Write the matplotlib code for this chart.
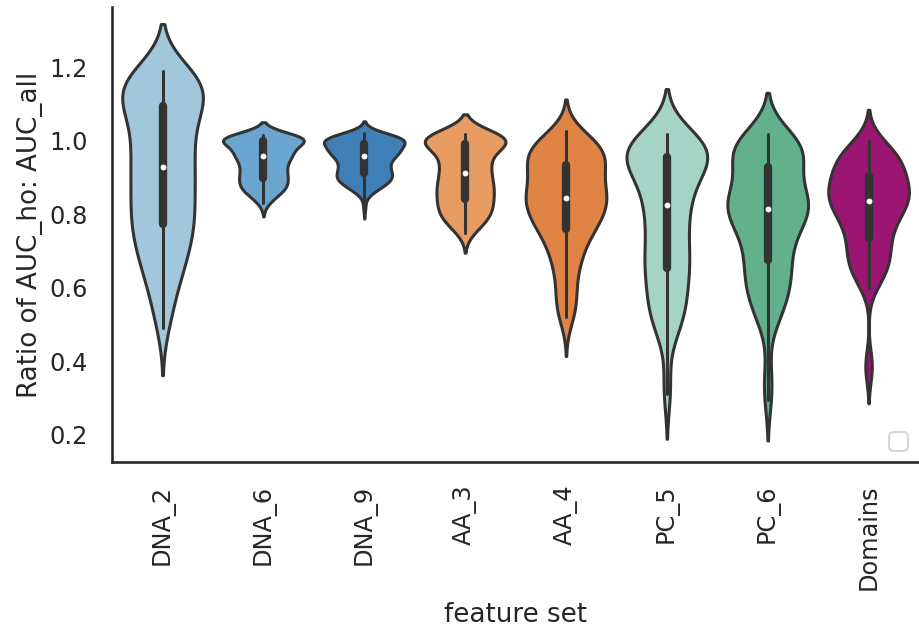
import numpy as np
import pandas as pd
import matplotlib
matplotlib.use("Agg")
import matplotlib.pyplot as plt
import seaborn as sns

feature_sets = ["DNA_2", "DNA_6", "DNA_9", "AA_3", "AA_4", "PC_5", "PC_6", "Domains"]
colors = ["#a2c7dc", "#6aa6cf", "#3f7fb6", "#e89c62",
          "#df8445", "#a5d4c6", "#63b08e", "#9b1572"]

# ratio values per feature set (rounded) and how often each one occurs
dna2_vals = [1.19, 1.16, 1.13, 1.11, 1.09, 1.06, 1.03, 1.00, 0.97, 0.94, 0.92, 0.89,
             0.86, 0.83, 0.80, 0.78, 0.75, 0.72, 0.69, 0.66, 0.63, 0.60, 0.57, 0.54,
             0.51, 0.49]
dna2_counts = [9, 11, 10, 5, 6, 6, 6, 6, 6, 5, 6, 6,
               6, 6, 6, 5, 6, 6, 5, 4, 4, 3, 2, 2,
               1, 2]

dna6_vals = [1.015, 1.01, 1.005, 0.995, 0.985, 0.975, 0.965, 0.96, 0.95, 0.94, 0.93, 0.92,
             0.91, 0.90, 0.89, 0.88, 0.87, 0.86, 0.85, 0.84, 0.83]
dna6_counts = [5, 12, 18, 7, 7, 7, 7, 7, 6, 6, 6, 6,
               6, 7, 6, 7, 6, 6, 3, 2, 2]

dna9_vals = [1.022, 1.015, 1.008, 1.00, 0.99, 0.98, 0.97, 0.965, 0.955, 0.945, 0.935, 0.925,
             0.915, 0.905, 0.895, 0.885, 0.875, 0.865, 0.855, 0.82]
dna9_counts = [3, 7, 10, 15, 9, 9, 9, 8, 7, 7, 7, 7,
               7, 9, 8, 7, 5, 3, 2, 1]

aa3_vals = [1.018, 1.01, 1.00, 0.99, 0.975, 0.96, 0.945, 0.93, 0.92, 0.905, 0.89, 0.875,
            0.86, 0.845, 0.83, 0.815, 0.80, 0.785, 0.77, 0.75]
aa3_counts = [8, 12, 15, 6, 6, 6, 6, 6, 5, 6, 7, 8,
              7, 7, 7, 7, 7, 6, 5, 3]

aa4_vals = [1.027, 1.01, 0.99, 0.97, 0.95, 0.93, 0.91, 0.89, 0.87, 0.85, 0.84, 0.82,
            0.80, 0.78, 0.765, 0.75, 0.73, 0.71, 0.69, 0.67, 0.65, 0.62, 0.59, 0.56,
            0.54, 0.52, 0.50]
aa4_counts = [3, 5, 8, 10, 9, 7, 7, 7, 7, 7, 8, 8,
              7, 7, 5, 4, 4, 4, 3, 3, 3, 3, 3, 3,
              2, 2, 1]

pc5_vals = [1.02, 1.00, 0.98, 0.97, 0.95, 0.92, 0.89, 0.86, 0.84, 0.81, 0.78, 0.75,
            0.72, 0.69, 0.67, 0.66, 0.64, 0.61, 0.58, 0.55, 0.52, 0.49, 0.46, 0.34, 0.31]
pc5_counts = [4, 9, 11, 11, 9, 9, 7, 5, 5, 6, 6, 5,
              5, 5, 4, 4, 4, 5, 5, 6, 5, 4, 2, 2, 2]

pc6_vals = [1.02, 1.00, 0.98, 0.96, 0.945, 0.925, 0.90, 0.875, 0.85, 0.83, 0.80, 0.78,
            0.755, 0.73, 0.70, 0.68, 0.66, 0.63, 0.60, 0.57, 0.54, 0.51, 0.48, 0.37,
            0.33, 0.295]
pc6_counts = [5, 8, 9, 7, 6, 4, 4, 5, 10, 12, 9, 7,
              6, 5, 4, 4, 5, 6, 6, 5, 4, 3, 1, 2,
              1, 2]

domains_vals = [1.00, 0.98, 0.96, 0.94, 0.92, 0.90, 0.88, 0.86, 0.845, 0.83, 0.81, 0.79,
                0.77, 0.75, 0.74, 0.72, 0.70, 0.68, 0.66, 0.64, 0.62, 0.60, 0.39, 0.37]
domains_counts = [4, 6, 8, 9, 8, 8, 9, 9, 9, 8, 8, 7,
                  6, 4, 2, 6, 5, 5, 5, 5, 3, 2, 3, 1]

tables = {
    "DNA_2": (dna2_vals, dna2_counts),
    "DNA_6": (dna6_vals, dna6_counts),
    "DNA_9": (dna9_vals, dna9_counts),
    "AA_3": (aa3_vals, aa3_counts),
    "AA_4": (aa4_vals, aa4_counts),
    "PC_5": (pc5_vals, pc5_counts),
    "PC_6": (pc6_vals, pc6_counts),
    "Domains": (domains_vals, domains_counts),
}

rows = []
for name in feature_sets:
    vals, counts = tables[name]
    for v, c in zip(vals, counts):
        rows += [(name, v)] * c
df = pd.DataFrame(rows, columns=["feature set", "ratio"])

sns.set_theme(style="white", context="talk")
plt.rcParams["xtick.labelsize"] = 17.3
plt.rcParams["ytick.labelsize"] = 17.3
plt.rcParams["axes.labelsize"] = 18.8

fig = plt.figure(figsize=(9.19, 6.28), dpi=100)
ax = fig.add_axes([0.122, 0.264, 0.878, 0.725])

sns.violinplot(data=df, x="feature set", y="ratio", hue="feature set",
               order=feature_sets, hue_order=feature_sets, palette=colors,
               legend=False, saturation=1, density_norm="width",
               bw_method=0.33, cut=2, linewidth=2.2, linecolor="#333333",
               inner_kws=dict(box_width=6, whis_width=2.2, marker="o",
                              markersize=3.6, markeredgewidth=0.6,
                              solid_capstyle="round"),
               ax=ax)

ax.set_xlim(-0.5, 7.5)
ax.set_ylim(0.125, 1.365)
ax.set_yticks([0.2, 0.4, 0.6, 0.8, 1.0, 1.2])
ax.tick_params(axis="y", pad=8.8)
ax.tick_params(axis="x", pad=7.3)
ax.set_ylabel("Ratio of AUC_ho: AUC_all", labelpad=4)
ax.set_xlabel("feature set", labelpad=8.3)
plt.setp(ax.get_xticklabels(), rotation=90)
ax.legend(handles=[], loc="lower right")
sns.despine()

fig.savefig("out.png", dpi=100)
